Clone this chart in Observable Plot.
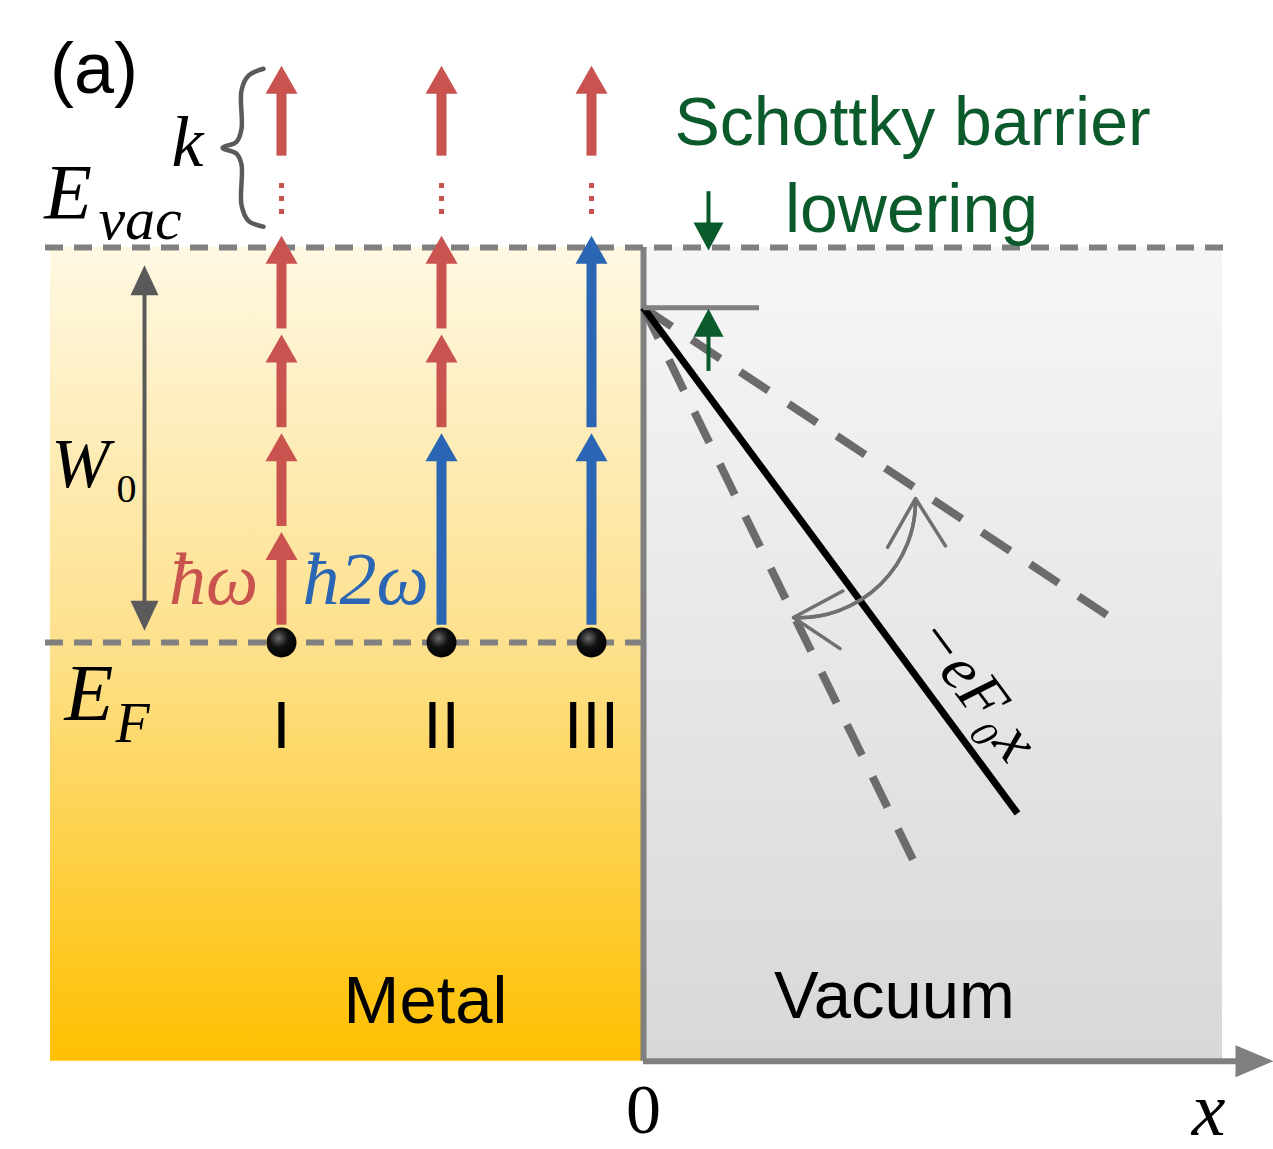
<!DOCTYPE html>
<html><head><meta charset="utf-8">
<script src="https://cdn.jsdelivr.net/npm/d3@7"></script>
<script src="https://cdn.jsdelivr.net/npm/@observablehq/plot@0.6"></script>
<style>
html,body{margin:0;padding:0;background:#fff;}
#chart svg{display:block;}
</style></head><body><div id="chart"></div>
<script>
// ---- energy model (units: ħω = 1, E_F = 0) ----
const W0 = 4;                 // work function: E_vac - E_F
const hw = 1;                 // photon energy ħω
const barrierPeak = 3.39;     // lowered barrier top (Schottky lowering ≈ 0.61)
const bottomY = -4.24;        // bottom of the energy axis
// ---- emission channels ----
const columns = ["I", "II", "III"];
const columnX = [-3.62, -2.02, -0.52];
const photonsI = [1, 1, 1, 1];     // in multiples of ħω
const photonsII = [2, 1, 1];
const photonsIII = [2, 2];
// above-threshold k photons
const kStart = 4.93, kTip = 5.84, kDotsFrom = 4.34, kDotsTo = 4.70;
// ---- regions ----
const metalX = [-5.93, 0];
const vacuumX = [0, 5.79];
const axisTipX = 6.30;
// ---- field lines from barrier peak (end points) ----
const fieldEndX = [3.74, 4.75, 2.70];
const fieldEndY = [-1.73, 0.20, -2.21];
const fieldKind = ["solid", "dashed", "dashed"];
// ---- rotation arc (end points) ----
const arcA = [2.72, 1.458];
const arcB = [1.50, 0.253];
// ---- labels ----
const regionLabels = ["Metal", "Vacuum"];
const schottkyLines = ["Schottky barrier", "lowering"];

const RED = "#c9534f", BLUE = "#2b66b4", GREEN = "#0b5a2b", GRAY = "#808080", DGRAY = "#5a5a5a";
const serif = "Liberation Serif, Times New Roman, DejaVu Serif, serif";
const sans = "Liberation Sans, Arial, Helvetica, sans-serif";

const head = (w, h) => ({draw(ctx) { ctx.moveTo(0, 0); ctx.lineTo(w / 2, h); ctx.lineTo(-w / 2, h); ctx.closePath(); }});
const headC = head(32, 28), headG = head(30, 28), headW = head(28, 30), headAx = head(32, 38);

function steps(photons, x) {
  let e = 0; const out = [];
  for (const n of photons) { out.push({x, from: e, to: e + n * hw, color: n === 1 ? RED : BLUE}); e += n * hw; }
  return out;
}
const segs = [...steps(photonsI, columnX[0]), ...steps(photonsII, columnX[1]), ...steps(photonsIII, columnX[2])];
const tipLift = 0.12, startGap = 0.18;
const kArrows = columnX.map(x => ({x}));
const field = fieldEndX.map((x, i) => ({x1: 0, y1: barrierPeak, x2: x, y2: fieldEndY[i], kind: fieldKind[i]}));

const braceX = -3.80, braceY = [5.81, 4.21];
const braceMid = (braceY[0] + braceY[1]) / 2;
const brace = [
  [braceX, braceY[0]], [braceX - 0.15, braceY[0] - 0.07], [braceX - 0.22, braceY[0] - 0.22],
  [braceX - 0.22, braceMid + 0.19], [braceX - 0.27, braceMid + 0.06], [braceX - 0.41, braceMid],
  [braceX - 0.27, braceMid - 0.06], [braceX - 0.22, braceMid - 0.17],
  [braceX - 0.22, braceY[1] + 0.22], [braceX - 0.15, braceY[1] + 0.06], [braceX, braceY[1]]
].map(([x, y]) => ({x, y}));

const svg = Plot.plot({
  width: 1273, height: 1149, margin: 0,
  x: {domain: [-6.43, 6.30], axis: null},
  y: {domain: [-5.134, 6.501], axis: null},
  color: {type: "identity"},
  style: {background: "#fff", overflow: "visible"},
  marks: [
    // regions
    Plot.rect([{x1: metalX[0], x2: metalX[1], y1: bottomY, y2: W0}], {x1: "x1", x2: "x2", y1: "y1", y2: "y2", fill: "url(#metalGrad)"}),
    Plot.rect([{x1: vacuumX[0], x2: vacuumX[1], y1: bottomY, y2: W0}], {x1: "x1", x2: "x2", y1: "y1", y2: "y2", fill: "url(#vacGrad)"}),
    // E_vac and E_F levels
    Plot.ruleY([W0], {x1: -5.98, x2: 5.85, stroke: GRAY, strokeWidth: 6, strokeDasharray: "18,11"}),
    Plot.ruleY([0], {x1: -5.98, x2: 0.07, stroke: GRAY, strokeWidth: 6, strokeDasharray: "18,11"}),
    // interface and x axis
    Plot.ruleX([0], {y1: bottomY, y2: W0, stroke: GRAY, strokeWidth: 6}),
    Plot.ruleY([bottomY], {x1: 0, x2: axisTipX - 0.3, stroke: GRAY, strokeWidth: 6}),
    Plot.dot([{x: axisTipX, y: bottomY}], {x: "x", y: "y", symbol: headAx, rotate: 90, fill: GRAY, stroke: "none"}),
    // W0 double arrow
    Plot.link([{x: -4.99}], {x1: "x", x2: "x", y1: () => 0.12 + 0.2, y2: () => W0 - 0.18 - 0.2, stroke: DGRAY, strokeWidth: 4}),
    Plot.dot([{x: -4.99, y: W0 - 0.18, r: 0}, {x: -4.99, y: 0.12, r: 180}], {x: "x", y: "y", symbol: headW, rotate: "r", fill: DGRAY, stroke: "none"}),
    // photon shafts and heads
    Plot.link(segs, {x1: "x", x2: "x", y1: d => d.from + startGap, y2: d => d.to + tipLift - 0.15, stroke: "color", strokeWidth: 10}),
    Plot.dot(segs, {x: "x", y: d => d.to + tipLift, symbol: headC, fill: "color", stroke: "none"}),
    // k photons above vacuum level
    Plot.link(kArrows, {x1: "x", x2: "x", y1: () => kDotsFrom, y2: () => kDotsTo, stroke: RED, strokeWidth: 5, strokeDasharray: "5,8"}),
    Plot.link(kArrows, {x1: "x", x2: "x", y1: () => kStart, y2: () => kTip - 0.15, stroke: RED, strokeWidth: 10}),
    Plot.dot(kArrows, {x: "x", y: () => kTip, symbol: headC, fill: RED, stroke: "none"}),
    // electrons at E_F
    Plot.dot(columnX.map(x => ({x})), {x: "x", y: () => 0, r: 15, fill: "url(#ballGrad)", stroke: "none"}),
    // brace
    Plot.line(brace, {x: "x", y: "y", curve: "catmull-rom", stroke: DGRAY, strokeWidth: 4.5}),
    // field lines
    Plot.link(field.filter(d => d.kind === "dashed"), {x1: "x1", y1: "y1", x2: "x2", y2: "y2", stroke: "#6b6b6b", strokeWidth: 8, strokeDasharray: "34,24"}),
    Plot.link(field.filter(d => d.kind === "solid"), {x1: "x1", y1: "y1", x2: "x2", y2: "y2", stroke: "#000", strokeWidth: 7}),
    Plot.ruleY([barrierPeak], {x1: 0, x2: 1.16, stroke: GRAY, strokeWidth: 5}),
    // rotation arc (double-headed)
    Plot.arrow([{x1: arcB[0], y1: arcB[1], x2: arcA[0], y2: arcA[1]}], {x1: "x1", y1: "y1", x2: "x2", y2: "y2", bend: -47, headLength: 24, headAngle: 62, stroke: "#707070", strokeWidth: 3.5}),
    Plot.arrow([{x1: arcA[0], y1: arcA[1], x2: arcB[0], y2: arcB[1]}], {x1: "x1", y1: "y1", x2: "x2", y2: "y2", bend: 47, headLength: 24, headAngle: 62, stroke: "#707070", strokeWidth: 3.5}),
    // Schottky lowering arrows
    Plot.link([{x: 0.65}], {x1: "x", x2: "x", y1: () => 4.57, y2: () => W0 - 0.03 + 0.2, stroke: GREEN, strokeWidth: 4}),
    Plot.link([{x: 0.65}], {x1: "x", x2: "x", y1: () => 2.75, y2: () => barrierPeak - 0.01 - 0.2, stroke: GREEN, strokeWidth: 4}),
    Plot.dot([{x: 0.65, y: W0 - 0.03, r: 180}, {x: 0.65, y: barrierPeak - 0.01, r: 0}], {x: "x", y: "y", symbol: headG, rotate: "r", fill: GREEN, stroke: "none"}),
    // texts
    Plot.text([{x: -5.495, y: 5.80, t: "(a)"}], {x: "x", y: "y", text: "t", fontFamily: sans, fontSize: 72, fill: "#000"}),
    Plot.text([{x: -4.56, y: 5.06, t: "k"}], {x: "x", y: "y", text: "t", fontFamily: serif, fontStyle: "italic", fontSize: 72, fill: "#000"}),
    Plot.text([{x: -5.755, y: 4.55, t: "E"}], {x: "x", y: "y", text: "t", fontFamily: serif, fontStyle: "italic", fontSize: 78, fill: "#000"}),
    Plot.text([{x: -5.035, y: 4.28, t: "vac"}], {x: "x", y: "y", text: "t", fontFamily: serif, fontStyle: "italic", fontSize: 60, fill: "#000"}),
    Plot.text([{x: -5.63, y: 1.80, t: "W"}], {x: "x", y: "y", text: "t", fontFamily: serif, fontStyle: "italic", fontSize: 70, fill: "#000"}),
    Plot.text([{x: -5.17, y: 1.55, t: "0"}], {x: "x", y: "y", text: "t", fontFamily: serif, fontSize: 40, fill: "#000"}),
    Plot.text([{x: -4.30, y: 0.63, t: "ħω"}], {x: "x", y: "y", text: "t", fontFamily: serif, fontStyle: "italic", fontSize: 74, fill: RED}),
    Plot.text([{x: -2.78, y: 0.63, t: "ħ2ω"}], {x: "x", y: "y", text: "t", fontFamily: serif, fontStyle: "italic", fontSize: 74, fill: BLUE}),
    Plot.text([{x: -5.545, y: -0.53, t: "E"}], {x: "x", y: "y", text: "t", fontFamily: serif, fontStyle: "italic", fontSize: 80, fill: "#000"}),
    Plot.text([{x: -5.11, y: -0.825, t: "F"}], {x: "x", y: "y", text: "t", fontFamily: serif, fontStyle: "italic", fontSize: 56, fill: "#000"}),
    Plot.text(columns.map((c, i) => ({x: columnX[i], t: c})), {x: "x", y: () => -0.856, text: "t", fontFamily: sans, fontSize: 66, fill: "#000"}),
    Plot.text([{x: -2.18, y: -3.635, t: regionLabels[0]}, {x: 2.51, y: -3.585, t: regionLabels[1]}], {x: "x", y: "y", text: "t", fontFamily: sans, fontSize: 67, fill: "#000"}),
    Plot.text([{x: 2.69, y: 5.26, t: schottkyLines[0]}, {x: 2.68, y: 4.38, t: schottkyLines[1]}], {x: "x", y: "y", text: "t", fontFamily: sans, fontSize: 68, fill: GREEN}),
    Plot.text([{x: 0, y: -4.74, t: "0"}], {x: "x", y: "y", text: "t", fontFamily: serif, fontSize: 70, fill: "#000"}),
    Plot.text([{x: 5.65, y: -4.74, t: "x"}], {x: "x", y: "y", text: "t", fontFamily: serif, fontStyle: "italic", fontSize: 76, fill: "#000"}),
    Plot.text([{x: 3.33, y: -0.47, t: "−eF₀x"}], {x: "x", y: "y", text: "t", rotate: 53.4, fontFamily: serif, fontStyle: "italic", fontSize: 64, fill: "#000"})
  ]
});

const defs = d3.select(svg).insert("defs", ":first-child");
const lg = (id, stops) => {
  const g = defs.append("linearGradient").attr("id", id).attr("x1", 0).attr("y1", 0).attr("x2", 0).attr("y2", 1);
  stops.forEach(([o, c]) => g.append("stop").attr("offset", o).attr("stop-color", c));
};
lg("metalGrad", [[0, "#fff8e3"], [0.5, "#fde08a"], [1, "#ffc000"]]);
lg("vacGrad", [[0, "#f6f6f6"], [1, "#d8d8d8"]]);
const rg = defs.append("radialGradient").attr("id", "ballGrad").attr("cx", 0.4).attr("cy", 0.35).attr("r", 0.7);
rg.append("stop").attr("offset", 0).attr("stop-color", "#6a6a6a");
rg.append("stop").attr("offset", 0.45).attr("stop-color", "#111");
rg.append("stop").attr("offset", 1).attr("stop-color", "#000");

document.getElementById("chart").appendChild(svg);
</script></body></html>
